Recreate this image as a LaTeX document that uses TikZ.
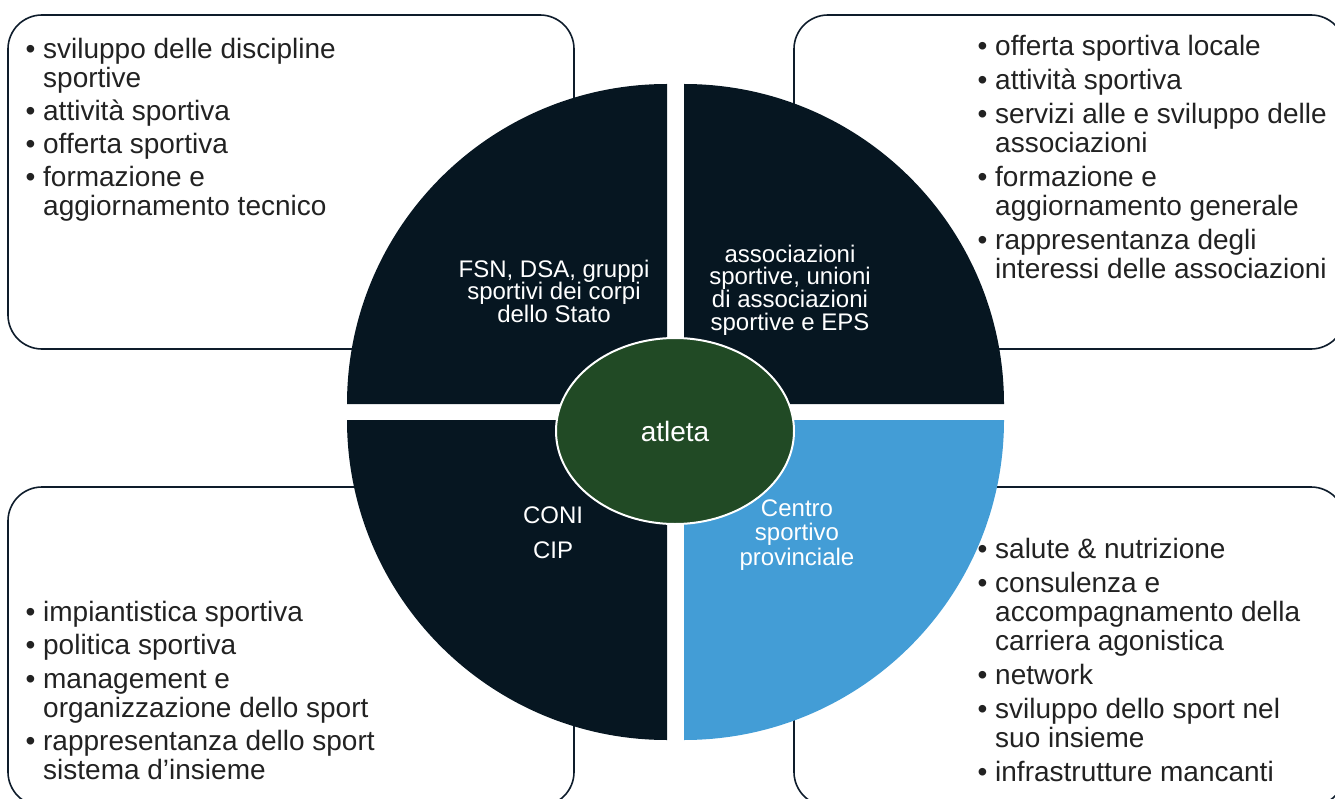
\documentclass[tikz,border=0pt]{standalone}
\usepackage{fontspec}
\setmainfont{Liberation Sans}
\usetikzlibrary{shapes.geometric}
\definecolor{quaddark}{HTML}{061621}
\definecolor{quadblue}{HTML}{439DD6}
\definecolor{athgreen}{HTML}{214A25}
\definecolor{boxline}{HTML}{0E1C2B}
\definecolor{listcol}{HTML}{222222}
\newcommand{\lbul}{\makebox[16pt][l]{\hspace*{-1.5pt}•}}
\newcommand{\lind}{\hspace*{16pt}}
\begin{document}
\begin{tikzpicture}[x=1pt,y=-1pt,
  infobox/.style={draw=boxline, line width=1.6pt, rounded corners=34pt, rectangle, inner sep=0pt},
  listnode/.style={anchor=north west, inner sep=0pt, align=left, text=listcol,
    font={\fontsize{28}{29}\selectfont\lineskiplimit=-20pt}},
  seglabel/.style={anchor=north, inner sep=0pt, align=center, text=white},
  quadfill/.style={fill=quaddark}
]
\useasboundingbox (0,0) rectangle (1335,799);
\clip (0,0) rectangle (1335,799);

% info boxes
\node[infobox, minimum width=566pt, minimum height=334pt] (boxTL) at (291,182) {};
\node[infobox, minimum width=551pt, minimum height=334pt] (boxTR) at (1069.5,182) {};
\node[infobox, minimum width=566pt, minimum height=319pt] (boxBL) at (291,646.5) {};
\node[infobox, minimum width=551pt, minimum height=319pt] (boxBR) at (1069.5,646.5) {};

% quadrants
\fill[quadfill] (667,404) -- (347,404) arc[start angle=180, end angle=270, radius=320] -- cycle;
\fill[quadfill] (684,404) -- (684,84) arc[start angle=270, end angle=360, radius=320] -- cycle;
\fill[quadfill] (667,420) -- (667,740) arc[start angle=90, end angle=180, radius=320] -- cycle;
\fill[quadblue] (684,420) -- (1004,420) arc[start angle=0, end angle=90, radius=320] -- cycle;

% center ellipse
\node[ellipse, draw=white, line width=2pt, fill=athgreen, minimum width=238pt, minimum height=186pt,
  inner sep=0pt, text=white, font=\fontsize{28}{30}\selectfont] (ath) at (675,431) {atleta};

% segment labels
\node[seglabel, font={\fontsize{24}{22.7}\selectfont\lineskiplimit=-20pt}] (labTL) at (554,258)
  {\rule{0pt}{19pt}FSN, DSA, gruppi\\sportivi dei corpi\\dello Stato};
\node[seglabel, font={\fontsize{24}{22.7}\selectfont\lineskiplimit=-20pt}] (labTR) at (790,243)
  {\rule{0pt}{19pt}associazioni\\sportive, unioni\\di associazioni\\sportive e EPS};
\node[seglabel, font={\fontsize{24}{35}\selectfont\lineskiplimit=-20pt}] (labBL) at (553,504)
  {\rule{0pt}{19pt}CONI\\CIP};
\node[seglabel, font={\fontsize{24}{24.5}\selectfont\lineskiplimit=-20pt}] (labBR) at (797,497)
  {\rule{0pt}{19pt}Centro\\sportivo\\provinciale};

% lists
\node[listnode] (listTL) at (27,34)
  {\rule{0pt}{24pt}\lbul sviluppo delle discipline\\
   \lind sportive\\[4pt]
   \lbul attività sportiva\\[4pt]
   \lbul offerta sportiva\\[4pt]
   \lbul formazione e\\
   \lind aggiornamento tecnico};
\node[listnode] (listTR) at (979,31)
  {\rule{0pt}{24pt}\lbul offerta sportiva locale\\[5pt]
   \lbul attività sportiva\\[5pt]
   \lbul servizi alle e sviluppo delle\\
   \lind associazioni\\[5pt]
   \lbul formazione e\\
   \lind aggiornamento generale\\[5pt]
   \lbul rappresentanza degli\\
   \lind interessi delle associazioni};
\node[listnode] (listBL) at (27,597)
  {\rule{0pt}{24pt}\lbul impiantistica sportiva\\[4.5pt]
   \lbul politica sportiva\\[4.5pt]
   \lbul management e\\
   \lind organizzazione dello sport\\[4.5pt]
   \lbul rappresentanza dello sport\\
   \lind sistema d’insieme};
\node[listnode] (listBR) at (979,534)
  {\rule{0pt}{24pt}\lbul salute \& nutrizione\\[5pt]
   \lbul consulenza e\\
   \lind accompagnamento della\\
   \lind carriera agonistica\\[5pt]
   \lbul network\\[5pt]
   \lbul sviluppo dello sport nel\\
   \lind suo insieme\\[5pt]
   \lbul infrastrutture mancanti};
\end{tikzpicture}
\end{document}
